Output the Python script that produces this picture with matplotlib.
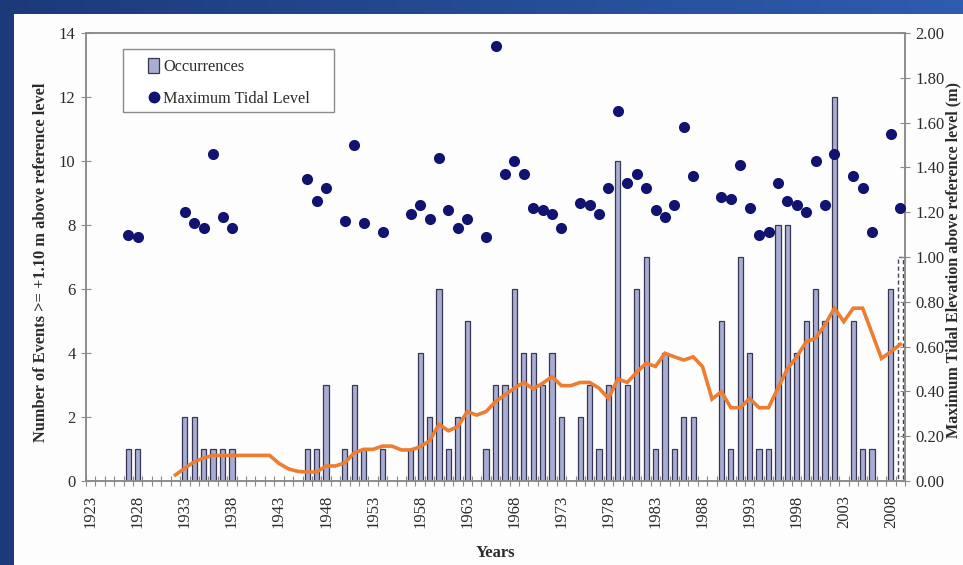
import numpy as np
import matplotlib
matplotlib.use("Agg")
import matplotlib.pyplot as plt
from matplotlib.patches import Patch, Rectangle
from matplotlib.lines import Line2D

plt.rcParams['font.family'] = ['Liberation Serif', 'DejaVu Serif']

# ---- data -------------------------------------------------------------
first_year, last_year = 1923, 2009
label_years = list(range(1923, 2009, 5))

event_years = [1927, 1928, 1933, 1934, 1935, 1936, 1937, 1938,
               1946, 1947, 1948, 1950, 1951, 1952, 1954,
               1957, 1958, 1959, 1960, 1961, 1962, 1963,
               1965, 1966, 1967, 1968, 1969, 1970, 1971, 1972, 1973,
               1975, 1976, 1977, 1978, 1979, 1980, 1981, 1982, 1983,
               1984, 1985, 1986, 1987,
               1990, 1991, 1992, 1993, 1994, 1995, 1996, 1997, 1998,
               1999, 2000, 2001, 2002, 2004, 2005, 2006, 2008, 2009]
occurrences = [1, 1, 2, 2, 1, 1, 1, 1,
               1, 1, 3, 1, 3, 1, 1,
               1, 4, 2, 6, 1, 2, 5,
               1, 3, 3, 6, 4, 4, 3, 4, 2,
               2, 3, 1, 3, 10, 3, 6, 7, 1,
               4, 1, 2, 2,
               5, 1, 7, 4, 1, 1, 8, 8, 4,
               5, 6, 5, 12, 5, 1, 1, 6, 7]
max_tidal_level = [1.10, 1.09, 1.20, 1.15, 1.13, 1.46, 1.18, 1.13,
                   1.35, 1.25, 1.31, 1.16, 1.50, 1.15, 1.11,
                   1.19, 1.23, 1.17, 1.44, 1.21, 1.13, 1.17,
                   1.09, 1.94, 1.37, 1.43, 1.37, 1.22, 1.21, 1.19, 1.13,
                   1.24, 1.23, 1.19, 1.31, 1.65, 1.33, 1.37, 1.31, 1.21,
                   1.18, 1.23, 1.58, 1.36,
                   1.27, 1.26, 1.41, 1.22, 1.10, 1.11, 1.33, 1.25, 1.23,
                   1.20, 1.43, 1.23, 1.46, 1.36, 1.31, 1.11, 1.55, 1.22]
partial_year = 2009

trend_years = list(range(1932, 2010))
trend_values = [0.19, 0.40, 0.60, 0.72, 0.80, 0.80, 0.80, 0.80, 0.80, 0.80,
                0.80, 0.55, 0.38, 0.30, 0.28, 0.28, 0.47, 0.47, 0.57, 0.88,
                0.99, 0.99, 1.09, 1.09, 0.97, 0.97, 1.07, 1.26, 1.77, 1.57,
                1.70, 2.17, 2.06, 2.17, 2.48, 2.69, 2.90, 3.08, 2.88, 3.05,
                3.26, 2.98, 2.98, 3.08, 3.08, 2.90, 2.58, 3.19, 3.08, 3.40,
                3.68, 3.58, 3.99, 3.88, 3.78, 3.88, 3.57, 2.56, 2.79, 2.29,
                2.29, 2.58, 2.29, 2.29, 2.90, 3.50, 3.88, 4.35, 4.46, 4.88,
                5.40, 4.98, 5.40, 5.40, 4.62, 3.83, 4.04, 4.27]

# ---- styling ----------------------------------------------------------
BAR_FACE = '#a8add1'
BAR_EDGE = '#363754'
DOT = '#121270'
ORANGE = '#ed7d31'
FRAME = '#8a8a8a'
TEXT = '#2b2b2b'

W, H = 963, 565
fig = plt.figure(figsize=(W / 100, H / 100), dpi=100)

# slide background: blue border bands with a white panel
bg = fig.add_axes([0, 0, 1, 1], zorder=-10)
grad = np.zeros((H, W, 3))
xs = np.linspace(0, 1, W)[None, :, None]
left_c = np.array([0x1c, 0x3a, 0x7a]) / 255
right_c = np.array([0x2e, 0x5c, 0xae]) / 255
grad[:] = left_c + (right_c - left_c) * xs
bg.imshow(grad, extent=[0, W, 0, H], aspect='auto')
bg.add_patch(Rectangle((14, 0), W - 14, H - 14, facecolor='#fdfdfd',
                       edgecolor='none'))
bg.set_xlim(0, W)
bg.set_ylim(0, H)
bg.axis('off')

ax = fig.add_axes([86 / W, 1 - 481 / H, (905 - 86) / W, (481 - 33) / H])
ax.set_facecolor('none')

idx = lambda y: y - first_year
pos = np.array([idx(y) for y in event_years])
occ = np.array(occurrences)
full = np.array([y != partial_year for y in event_years])

ax.bar(pos[full], occ[full], width=0.55, color=BAR_FACE, edgecolor=BAR_EDGE,
       linewidth=0.9, zorder=2)
ax.bar(pos[~full], occ[~full], width=0.55, color='white', edgecolor='#444455',
       linewidth=1.0, linestyle=(0, (3, 2)), zorder=2)
ax.plot([idx(y) for y in trend_years], trend_values, color=ORANGE, lw=2.6,
        solid_joinstyle='miter', zorder=3)

ax.set_xlim(-0.5, last_year - first_year + 0.5)
ax.set_ylim(0, 14)
ax.set_yticks(range(0, 15, 2))
ax.set_xticks([idx(y) for y in label_years])
ax.set_xticklabels([str(y) for y in label_years], rotation=90)
ax.set_xticks(np.arange(-0.5, last_year - first_year + 1), minor=True)
ax.tick_params(axis='x', which='major', length=0, pad=10, labelsize=12,
               labelcolor=TEXT)
ax.tick_params(axis='x', which='minor', direction='inout', length=7,
               color=FRAME, width=0.8)
ax.tick_params(axis='y', direction='inout', length=7, color=FRAME, width=0.8,
               labelsize=12, labelcolor=TEXT, pad=4)

for s in ax.spines.values():
    s.set_color(FRAME)
    s.set_linewidth(1.1)

ax.set_xlabel('Years', fontsize=12, fontweight='bold', color=TEXT,
              labelpad=12)
fig.text(41 / W, 1 - 262 / H,
         'Number of Events >= +1.10 m above reference level',
         rotation=90, ha='center', va='center', fontsize=11.8,
         fontweight='bold', color=TEXT)

ax2 = ax.twinx()
ax2.set_ylim(0, 2)
ax2.set_yticks(np.arange(0, 2.01, 0.2))
ax2.set_yticklabels([f'{v:.2f}' for v in np.arange(0, 2.01, 0.2)])
ax2.tick_params(axis='y', direction='inout', length=7, color=FRAME, width=0.8,
                labelsize=12, labelcolor=TEXT, pad=4)
for s in ax2.spines.values():
    s.set_color(FRAME)
    s.set_linewidth(1.1)
ax2.scatter(pos, max_tidal_level, s=64, color=DOT, zorder=4, linewidths=0)

fig.text(953 / W, 1 - 260 / H,
         'Maximum Tidal Elevation above reference level (m)',
         rotation=90, ha='center', va='center', fontsize=11.6,
         fontweight='bold', color=TEXT)

# legend: plain box with the entries laid inside it
box_x0, box_x1 = (123 - 86) / 819, (334 - 86) / 819
box_y0, box_y1 = (481 - 112) / 448, (481 - 49) / 448
ax2.add_patch(Rectangle((box_x0, box_y0), box_x1 - box_x0, box_y1 - box_y0,
                        transform=ax2.transAxes, facecolor='white',
                        edgecolor=FRAME, linewidth=1.0, zorder=5))
handles = [Patch(facecolor=BAR_FACE, edgecolor=BAR_EDGE, linewidth=0.9),
           Line2D([], [], marker='o', linestyle='none', color=DOT,
                  markersize=7.5)]
leg = ax2.legend(handles, ['Occurrences', 'Maximum Tidal Level'],
                 loc='center left',
                 bbox_to_anchor=((148 - 86) / 819,
                                 (box_y0 + box_y1) / 2 - 2 / 448),
                 frameon=False, fontsize=11.7,
                 handlelength=0.7, handleheight=1.05, handletextpad=0.25,
                 labelspacing=0.95, borderpad=0, borderaxespad=0)
leg.set_zorder(6)
for t in leg.get_texts():
    t.set_color(TEXT)

fig.savefig('out.png', dpi=100)
